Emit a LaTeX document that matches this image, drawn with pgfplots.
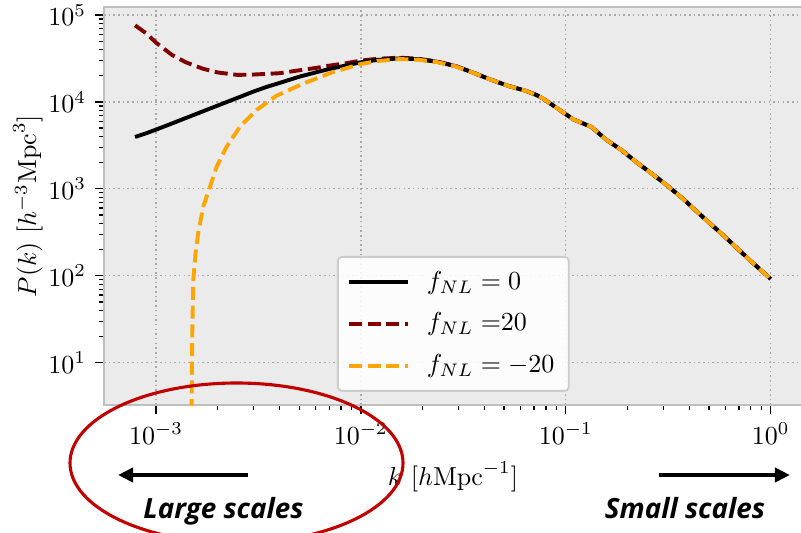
\documentclass[border=0pt]{standalone}
\usepackage{pgfplots}
\pgfplotsset{compat=1.18}
\usepackage{fontspec}
\newfontfamily\annfont{Open Sans}
\usetikzlibrary{arrows.meta}
\definecolor{bg}{HTML}{EBEBEB}
\definecolor{spine}{HTML}{BFBFBF}
\definecolor{gridc}{HTML}{A8A8A8}
\definecolor{maroonc}{HTML}{800000}
\definecolor{orangec}{HTML}{FFA500}
\definecolor{ellc}{HTML}{C00000}
\definecolor{leggray}{HTML}{CCCCCC}
\begin{document}
\begin{tikzpicture}[x=0.384615pt,y=-0.384615pt]
\begin{axis}[
 at={(40pt,-155.77pt)}, anchor=south west,
 scale only axis, width=268.46pt, height=153.08pt,
 xmode=log, ymode=log,
 xmin=5.57e-4, xmax=1.422, ymin=3.26, ymax=1.236e5,
 xtick={1e-3,1e-2,1e-1,1}, ytick={10,100,1000,10000,100000},
 xtick pos=bottom, ytick pos=left, tick align=outside,
 major tick length=3.4pt, minor tick length=1.9pt,
 tick style={black, line width=0.5pt},
 axis background/.style={fill=bg},
 axis line style={spine, line width=0.9pt},
 grid=major, major grid style={gridc, line width=0.5pt, dash pattern=on 0.6pt off 1.2pt},
 xlabel={$k$ $[h\mathrm{Mpc}^{-1}]$}, ylabel={$P(k)$ $[h^{-3}\mathrm{Mpc}^3]$},
 xlabel style={at={(axis description cs:0.5,-0.181)}, anchor=center},
 ylabel style={at={(axis description cs:-0.109,0.5)}, anchor=center},
 legend style={at={(0.3338,0.3744)}, anchor=north west, draw=leggray, fill=white, fill opacity=0.85, text opacity=1, rounded corners=1.5pt, line width=0.7pt, inner xsep=3.5pt, inner ysep=3.5pt, row sep=3.6pt, font=\normalsize,
   /tikz/every odd column/.append style={column sep=4.5pt}},
 legend cell align=left,
 legend image code/.code={\draw[#1] (0pt,0pt) -- (22.7pt,0pt);},
]
\addlegendimage{black, line width=1.5pt}
\addlegendimage{maroonc, line width=1.5pt, dash pattern=on 5pt off 2.2pt}
\addlegendimage{orangec, line width=1.5pt, dash pattern=on 5pt off 2.2pt}
\addplot[forget plot, maroonc, line width=1.5pt, dash pattern=on 5pt off 2.2pt] coordinates {
(7.9e-4,76000) (9e-4,61000) (1e-3,48000) (1.2e-3,34500) (1.4e-3,28500) (1.7e-3,24000)
(2e-3,21800) (2.5e-3,20450) (3e-3,20650) (3.5e-3,21050) (4e-3,21380) (5e-3,23110)
(6e-3,24560) (7e-3,26110) (8.5e-3,27940) (1e-2,29880) (1.2e-2,31340) (1.55e-2,32290)
(1.9e-2,31380) (2.34e-2,29230) (2.88e-2,26040) (3.53e-2,21700) (4.26e-2,18200)
(5.23e-2,15300) (6.39e-2,13400) (7.2e-2,12000) (7.75e-2,10900) (9.18e-2,8300)
(0.1087,6300) (0.1334,5150) (0.1578,3660) (0.1868,2800) (0.2209,2030) (0.2615,1510)
(0.3097,1110) (0.3733,770) (0.4305,563) (0.5036,403) (0.5912,288) (0.6918,203)
(0.8139,142) (1.0,92)};
\addplot[forget plot, black, line width=1.5pt] coordinates {
(7.9e-4,3950) (9e-4,4380) (1e-3,4800) (1.2e-3,5670) (1.4e-3,6540) (1.7e-3,7820)
(2e-3,9080) (2.5e-3,11150) (3e-3,13200) (3.5e-3,15000) (4e-3,16500) (5e-3,19500)
(6e-3,21800) (7e-3,23900) (8.5e-3,26300) (1e-2,28600) (1.2e-2,30400) (1.55e-2,31700)
(1.9e-2,31000) (2.34e-2,29000) (2.88e-2,25900) (3.53e-2,21700) (4.26e-2,18200)
(5.23e-2,15300) (6.39e-2,13400) (7.2e-2,12000) (7.75e-2,10900) (9.18e-2,8300)
(0.1087,6300) (0.1334,5150) (0.1578,3660) (0.1868,2800) (0.2209,2030) (0.2615,1510)
(0.3097,1110) (0.3733,770) (0.4305,563) (0.5036,403) (0.5912,288) (0.6918,203)
(0.8139,142) (1.0,92)};
\addplot[forget plot, orangec, line width=1.5pt, dash pattern=on 5pt off 2.2pt] coordinates {
(1.485e-3,1.0) (1.49e-3,3.0) (1.495e-3,6.4) (1.503e-3,24) (1.52e-3,90) (1.56e-3,185)
(1.607e-3,312) (1.70e-3,627) (1.835e-3,1060) (1.977e-3,1800) (2.21e-3,3060)
(2.57e-3,5200) (3.1e-3,8100) (3.88e-3,11800) (5.24e-3,16300) (7.3e-3,22000)
(1e-2,27350) (1.2e-2,29470) (1.55e-2,31120) (1.9e-2,30620) (2.34e-2,28770)
(2.88e-2,25750) (3.53e-2,21700) (4.26e-2,18200)
(5.23e-2,15300) (6.39e-2,13400) (7.2e-2,12000) (7.75e-2,10900) (9.18e-2,8300)
(0.1087,6300) (0.1334,5150) (0.1578,3660) (0.1868,2800) (0.2209,2030) (0.2615,1510)
(0.3097,1110) (0.3733,770) (0.4305,563) (0.5036,403) (0.5912,288) (0.6918,203)
(0.8139,142) (1.0,92)};
\legend{$f_{NL}=0$, $f_{NL}=$20, $f_{NL}=-20$}
\end{axis}
\draw[ellc, line width=1.2pt] (236.5,463) ellipse [x radius=166.5, y radius=80];
\draw[line width=1.5pt, -{Triangle[length=5.8pt,width=5.4pt]}] (248,475) -- (118,475);
\draw[line width=1.5pt, -{Triangle[length=5.8pt,width=5.4pt]}] (659,475) -- (790,475);
\node[font=\annfont\bfseries\itshape\fontsize{10.7}{12}\selectfont, anchor=base] at (223.5,518) {Large scales};
\node[font=\annfont\bfseries\itshape\fontsize{10.7}{12}\selectfont, anchor=base] at (685,518) {Small scales};
\pgfresetboundingbox
\path[use as bounding box] (0,0) rectangle (801,533);
\end{tikzpicture}
\end{document}
